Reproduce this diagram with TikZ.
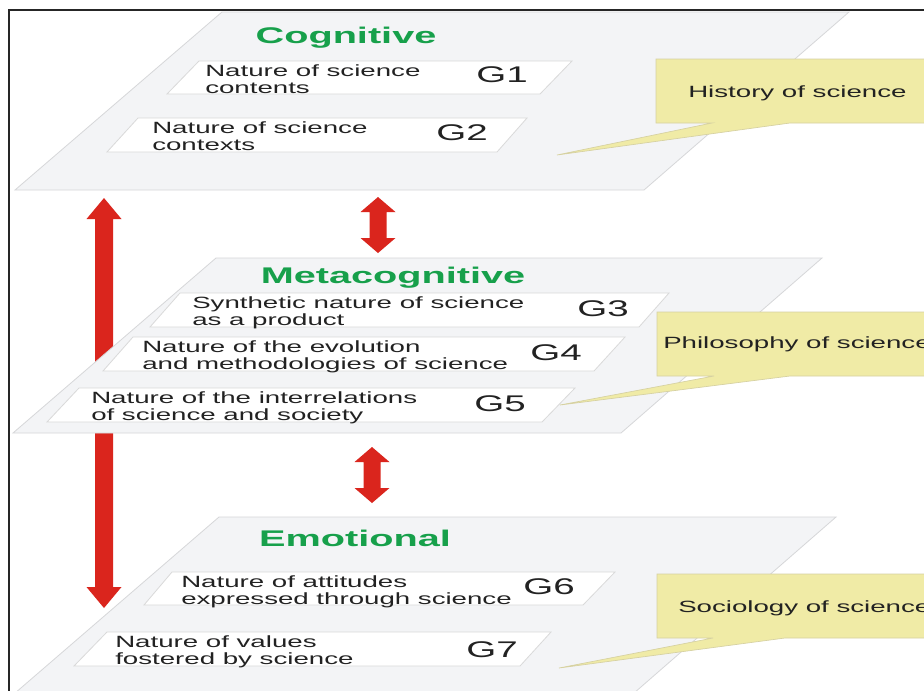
\documentclass[tikz,border=0pt]{standalone}
\usepackage{fontspec}
\usetikzlibrary{calc}
\newfontfamily\sfx[FakeStretch=1.7]{Liberation Sans}
\newfontfamily\headfont[FakeStretch=1.75]{Liberation Sans Bold}
\definecolor{planefill}{HTML}{F3F4F6}
\definecolor{planeline}{HTML}{D6D7D9}
\definecolor{boxline}{HTML}{D9D9D9}
\definecolor{callfill}{HTML}{F0EBA6}
\definecolor{callline}{HTML}{D6D1A2}
\definecolor{headgreen}{HTML}{17A04B}
\definecolor{arrowred}{HTML}{DA251D}
\definecolor{txt}{HTML}{222222}
\tikzset{
  plane/.style={fill=planefill, draw=planeline, line width=0.6pt},
  gbox/.style={fill=white, draw=boxline, line width=0.6pt},
  callout/.style={fill=callfill, draw=callline, line width=0.5pt},
  boxtext/.style={anchor=base west, inner sep=0pt, align=left, text=txt,
    font=\sfx\fontsize{12.2}{12.75}\selectfont},
  glabel/.style={anchor=base, inner sep=0pt, text=txt, font=\sfx\fontsize{17}{20}\selectfont},
  headtext/.style={anchor=base, inner sep=0pt, text=headgreen, font=\headfont\fontsize{17}{20}\selectfont},
  calltext/.style={anchor=base west, inner sep=0pt, text=txt, font=\sfx\fontsize{12.2}{14}\selectfont},
}
% #1 top tip, #2 bottom tip, #3 half shaft, #4 half head, #5 head length
\newcommand\dblarrow[5]{%
  \fill[arrowred] (#1) -- ++(#4,#5) -- ++(#3-#4,0) -- ($(#2)+(#3,-#5)$) -- ++(#4-#3,0) -- (#2)
    -- ++(-#4,-#5) -- ++(#4-#3,0) -- ($(#1)+(-#3,#5)$) -- ++(#3-#4,0) -- cycle;}
\begin{document}
\begin{tikzpicture}[x=0.75pt,y=-0.75pt]
\clip (0,0) rectangle (924,690);
\fill[white] (0,0) rectangle (924,690);

% ---------- Cognitive ----------
\path[plane] (222,12) -- (849,12) -- (644,190) -- (15,190) -- cycle;
\node[headtext] (hcog) at (346,43) {Cognitive};
\path[gbox] (199,61) -- (572,61) -- (540,94) -- (167,94) -- cycle;
\node[boxtext] (t1) at (205,93) {Nature of science\\contents};
\node[glabel] (g1) at (502,82) {G1};
\path[gbox] (138,118) -- (527,118) -- (497,152) -- (107,152) -- cycle;
\node[boxtext] (t2) at (152,150) {Nature of science\\contexts};
\node[glabel] (g2) at (462,140) {G2};
\path[callout] (656,59) -- (930,59) -- (930,123) -- (790,123) -- (557,155) -- (712,123) -- (656,123) -- cycle;
\node[calltext] (chist) at (688,97) {History of science};

% ---------- arrows ----------
\coordinate (la1) at (104,198);
\coordinate (la2) at (104,608);
\dblarrow{la1}{la2}{9}{17.5}{21}
\coordinate (sa1) at (378,197);
\coordinate (sa2) at (378,253);
\dblarrow{sa1}{sa2}{8.5}{17.5}{15}

% ---------- Metacognitive ----------
\path[plane] (216,258) -- (822,258) -- (621,433) -- (13,433) -- cycle;
\node[headtext] (hmeta) at (393,283) {Metacognitive};
\path[gbox] (180,293) -- (669,293) -- (639,327) -- (150,327) -- cycle;
\node[boxtext] (t3) at (192,325) {Synthetic nature of science\\as a product};
\node[glabel] (g3) at (603,316) {G3};
\path[gbox] (133,337) -- (625,337) -- (594,371) -- (103,371) -- cycle;
\node[boxtext] (t4) at (142,369) {Nature of the evolution\\and methodologies of science};
\node[glabel] (g4) at (556,360) {G4};
\path[gbox] (79,388) -- (575,388) -- (542,422) -- (47,422) -- cycle;
\node[boxtext] (t5) at (91,420) {Nature of the interrelations\\of science and society};
\node[glabel] (g5) at (500,411) {G5};
\path[callout] (657,312) -- (930,312) -- (930,376) -- (790,376) -- (560,405) -- (714,376) -- (657,376) -- cycle;
\node[calltext] (cphil) at (663,348) {Philosophy of science};

\coordinate (sb1) at (372,447);
\coordinate (sb2) at (372,503);
\dblarrow{sb1}{sb2}{8.5}{17.5}{15}

% ---------- Emotional ----------
\path[plane] (219,517) -- (836,517) -- (626,700) -- (7,700) -- cycle;
\node[headtext] (hemo) at (355,546) {Emotional};
\path[gbox] (172,572) -- (615,572) -- (583,605) -- (144,605) -- cycle;
\node[boxtext] (t6) at (181,604) {Nature of attitudes\\expressed through science};
\node[glabel] (g6) at (549,594) {G6};
\path[gbox] (107,632) -- (551,632) -- (520,666) -- (74,666) -- cycle;
\node[boxtext] (t7) at (115,664) {Nature of values\\fostered by science};
\node[glabel] (g7) at (492,657) {G7};
\path[callout] (657,574) -- (930,574) -- (930,638) -- (785,638) -- (559,668) -- (713,638) -- (657,638) -- cycle;
\node[calltext] (csoc) at (678,612) {Sociology of science};

% ---------- frame ----------
\draw[line width=1.3pt, black!85] (9,700) -- (9,10) -- (930,10);
\end{tikzpicture}
\end{document}
